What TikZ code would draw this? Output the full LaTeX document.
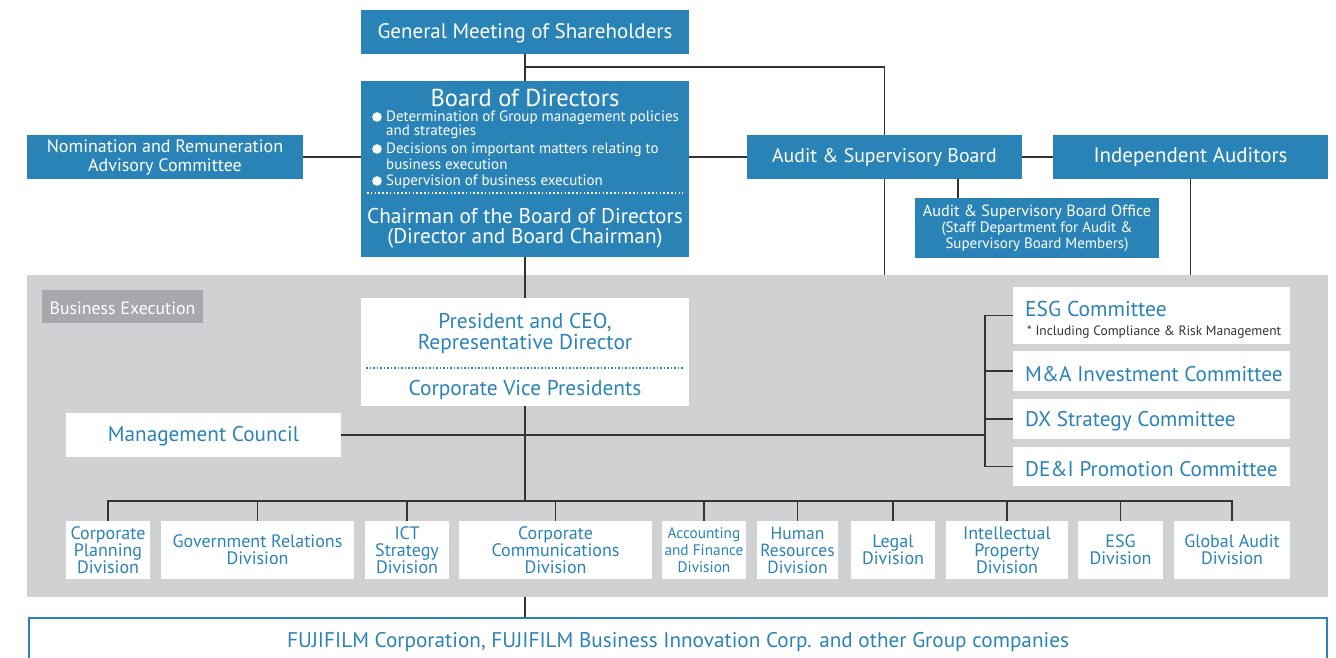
\documentclass[tikz,border=0pt]{standalone}
\usepackage{fontspec}
\setmainfont{PT Sans}
\usetikzlibrary{calc}
\definecolor{fblue}{HTML}{2A83B7}
\definecolor{fgray}{HTML}{D0D1D3}
\definecolor{lgray}{HTML}{A7A8AB}
\definecolor{lcol}{HTML}{333333}
\tikzset{
  bbox/.style={fill=fblue, draw=none, text=white, align=center, inner sep=0pt},
  wbox/.style={fill=white, draw=none, text=fblue, align=center, inner sep=0pt},
  conn/.style={draw=lcol, line width=1.4pt}
}
\newcommand{\sz}[2]{\fontsize{#1}{#2}\selectfont}
\begin{document}
\begin{tikzpicture}[x=1pt,y=-1pt]
\useasboundingbox (0,0) rectangle (1336,658);
% gray area
\fill[fgray] (27,275) rectangle (1328,597);
% top boxes
\node[bbox, minimum width=328, minimum height=44] (gm) at (525,32) {};
\node[text=white, inner sep=0pt, font=\sz{21}{22}] (gmt) at (525,33) {General Meeting of Shareholders};
\node[bbox, minimum width=328, minimum height=176] (board) at (525,169) {};
\node[bbox, minimum width=276, minimum height=44, font=\sz{18}{19}] (nom) at (165,157) {Nomination and Remuneration\\Advisory Committee};
\node[bbox, minimum width=275, minimum height=44, font=\sz{19.8}{22}] (asb) at (884.5,157) {Audit \& Supervisory Board};
\node[bbox, minimum width=275, minimum height=44, font=\sz{21}{22}] (ia) at (1190.5,157) {Independent Auditors};
\node[bbox, minimum width=244, minimum height=60, font=\sz{15}{16}] (office) at (1037,228) {{\sz{16.2}{19}Audit \& Supervisory Board Office}\\(Staff Department for Audit \&\\Supervisory Board Members)};
% board contents
\node[text=white, inner sep=0pt, font=\sz{24.5}{26}] (bt) at (525,98) {Board of Directors};
\foreach \y in {117,149,181} \fill[white] (377,\y) circle (4.8);
\begin{scope}[every node/.style={anchor=west, text=white, inner sep=0pt, font=\sz{15}{16}}]
\node (b1) at (386,118) {Determination of Group management policies};
\node (b2) at (386,132) {and strategies};
\node (b3) at (386,150) {Decisions on important matters relating to};
\node (b4) at (386,164) {business execution};
\node (b5) at (386,182) {Supervision of business execution};
\end{scope}
\draw[white, line width=1.6pt, dash pattern=on 1.6pt off 2.2pt] (367,193) -- (683,193);
\node[text=white, inner sep=0pt, font=\sz{21.3}{22}] (ch1) at (525,216) {Chairman of the Board of Directors};
\node[text=white, inner sep=0pt, font=\sz{21.3}{22}] (ch2) at (525,238) {(Director and Board Chairman)};
% business execution
\node[fill=lgray, text=white, inner sep=0pt, minimum width=161, minimum height=33] (be) at (122.5,306.5) {};
\node[text=white, inner sep=0pt, font=\sz{17.8}{18}] (bet) at (122.5,308) {Business Execution};
\node[wbox, minimum width=328, minimum height=108] (pres) at (525,352) {};
\node[text=fblue, inner sep=0pt, font=\sz{21.4}{22}] (p1) at (525,322) {President and CEO,};
\node[text=fblue, inner sep=0pt, font=\sz{21.4}{22}] (p2) at (525,344) {Representative Director};
\draw[fblue, line width=1.5pt, dash pattern=on 1.5pt off 2pt] (366,368) -- (683,368);
\node[text=fblue, inner sep=0pt, font=\sz{21.4}{22}] (p3) at (525,390) {Corporate Vice Presidents};
\node[wbox, minimum width=275, minimum height=44] (mc) at (203.5,435) {};
\node[text=fblue, inner sep=0pt, font=\sz{21.2}{22}] (mct) at (203.5,436) {Management Council};
% committees
\node[wbox, minimum width=277, minimum height=57] (c1) at (1151.5,315.5) {};
\node[text=fblue, anchor=west, inner sep=0pt, font=\sz{21.5}{22}] (c1t) at (1025,309) {ESG Committee};
\node[text=lcol, anchor=west, inner sep=0pt, font=\sz{13.5}{14}] (c1s) at (1027,332) {* Including Compliance \& Risk Management};
\node[wbox, minimum width=277, minimum height=40] (c2) at (1151.5,371) {};
\node[text=fblue, anchor=west, inner sep=0pt, font=\sz{21.2}{22}] (c2t) at (1025,374) {M\&A Investment Committee};
\node[wbox, minimum width=277, minimum height=40] (c3) at (1151.5,419) {};
\node[text=fblue, anchor=west, inner sep=0pt, font=\sz{21.2}{22}] (c3t) at (1025,421) {DX Strategy Committee};
\node[wbox, minimum width=277, minimum height=39] (c4) at (1151.5,466.5) {};
\node[text=fblue, anchor=west, inner sep=0pt, font=\sz{21.2}{22}] (c4t) at (1025,469) {DE\&I Promotion Committee};
% divisions
\begin{scope}[every node/.style={wbox, minimum height=58, font=\sz{18}{17}}]
\node[minimum width=84] (d1) at (108,550) {Corporate\\Planning\\Division};
\node[minimum width=193] (d2) at (257.5,550) {Government Relations\\Division};
\node[minimum width=84] (d3) at (407,550) {ICT\\Strategy\\Division};
\node[minimum width=193] (d4) at (555.5,550) {Corporate\\Communications\\Division};
\node[minimum width=84, font=\sz{15.3}{17}] (d5) at (704,550) {Accounting\\and Finance\\Division};
\node[minimum width=81, font=\sz{17.5}{17}] (d6) at (797.5,550) {Human\\Resources\\Division};
\node[minimum width=84] (d7) at (893,550) {Legal\\Division};
\node[minimum width=122] (d8) at (1007,550) {Intellectual\\Property\\Division};
\node[minimum width=85] (d9) at (1120.5,550) {ESG\\Division};
\node[minimum width=116] (d10) at (1232,550) {Global Audit\\Division};
\end{scope}
% bottom
\node[fill=white, draw=fblue, line width=1.4pt, minimum width=1298, minimum height=60, inner sep=0pt] (fuji) at (678,648) {};
\node[text=fblue, inner sep=0pt, font=\sz{21.2}{22}] (fujit) at (678,642) {FUJIFILM Corporation, FUJIFILM Business Innovation Corp. and other Group companies};
% connectors
\coordinate (j1) at (525,67);
\draw[conn] (gm.south) -- (board.north);
\draw[conn] (j1) -| (asb.north);
\draw[conn] (asb.south) -- (asb.south |- 0,275);
\draw[conn] (nom.east) -- (nom.east -| board.west);
\draw[conn] (asb.west -| board.east) -- (asb.west);
\draw[conn] (asb.east) -- (ia.west);
\coordinate (o1) at (958,179);
\draw[conn] (o1) -- (o1 |- office.north);
\draw[conn] (ia.south) -- (ia.south |- 0,275);
\draw[conn] (board.south) -- (pres.north);
\coordinate (bus) at (525,501);
\draw[conn] (pres.south) -- (bus);
\coordinate (br) at (985,435);
\draw[conn] (mc.east) -- (br);
\draw[conn] (c1.west) -| (br) |- (c4.west);
\draw[conn] (c2.west) -- (c2.west -| br);
\draw[conn] (c3.west) -- (c3.west -| br);
\draw[conn] (d1.north) -- (d1.north |- bus) -- (d10.north |- bus) -- (d10.north);
\foreach \d in {d2,d3,d4,d5,d6,d7,d8,d9} \draw[conn] (\d.north) -- (\d.north |- bus);
\coordinate (gb) at (525,597);
\draw[conn] (gb) -- (gb |- fuji.north);
\end{tikzpicture}
\end{document}
